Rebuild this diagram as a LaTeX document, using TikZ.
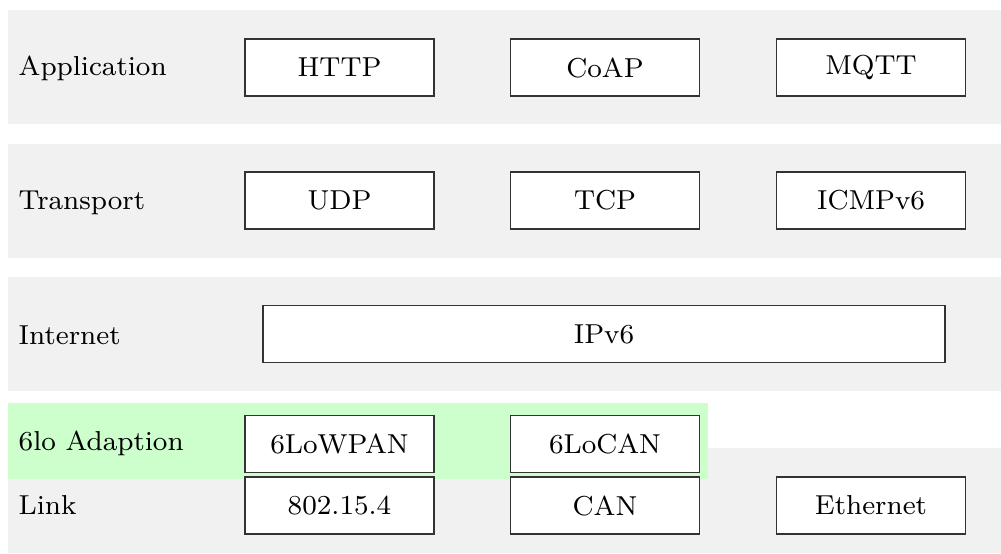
\documentclass[tikz,border=0pt]{standalone}
\usepackage{tikz}
\definecolor{bandgray}{RGB}{241, 241, 241}
\definecolor{adaptgreen}{RGB}{204, 255, 204}

\begin{document}
\begin{tikzpicture}[font=\fontsize{7.8}{9}\selectfont,
	proto/.style={draw=black!80, line width=0.35pt, fill=white, minimum width=1.89cm, minimum height=0.57cm, inner sep=0pt},
	layer/.style={anchor=base west, inner sep=0pt}]
	\useasboundingbox (0,0) rectangle (10.01,5.53);
	% layer bands
	\fill[bandgray] (0.08,4.29) rectangle (10.01,5.43);
	\fill[bandgray] (0.08,2.95) rectangle (10.01,4.09);
	\fill[bandgray] (0.08,1.62) rectangle (10.01,2.76);
	\fill[bandgray] (0.08,0) rectangle (10.01,1.05);
	\fill[adaptgreen] (0.08,0.74) rectangle (7.08,1.50);
	% layer names
	\node[layer] (application) at (0.18,4.78) {Application};
	\node[layer] (transport) at (0.18,3.44) {Transport};
	\node[layer] (internet) at (0.18,2.09) {Internet};
	\node[layer] (adaption) at (0.18,1.03) {6lo Adaption};
	\node[layer] (link) at (0.18,0.39) {Link};
	% protocols
	\node[proto] (http) at (3.395,4.855) {HTTP};
	\node[proto] (coap) at (6.05,4.855) {CoAP};
	\node[proto] (mqtt) at (8.71,4.855) {MQTT};
	\node[proto] (udp) at (3.395,3.525) {UDP};
	\node[proto] (tcp) at (6.05,3.525) {TCP};
	\node[proto] (icmp) at (8.71,3.525) {ICMPv6};
	\node[proto, minimum width=6.82cm] (ipv6) at (6.04,2.19) {IPv6};
	\node[proto] (lowpan) at (3.395,1.09) {6LoWPAN};
	\node[proto] (locan) at (6.05,1.09) {6LoCAN};
	\node[proto] (wpan) at (3.395,0.475) {802.15.4};
	\node[proto] (can) at (6.05,0.475) {CAN};
	\node[proto] (eth) at (8.71,0.475) {Ethernet};
\end{tikzpicture}
\end{document}
